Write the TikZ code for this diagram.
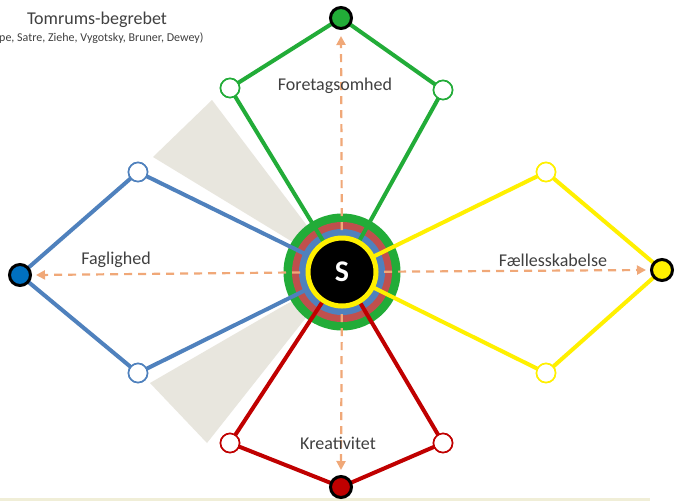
\documentclass[tikz,border=0pt]{standalone}
\usepackage{fontspec}
\setmainfont{Carlito}
\usetikzlibrary{arrows.meta}
\definecolor{cgreen}{RGB}{34,172,56}
\definecolor{cblue}{RGB}{79,129,189}
\definecolor{cbluedark}{RGB}{0,112,192}
\definecolor{cred}{RGB}{192,0,0}
\definecolor{cringred}{RGB}{192,80,77}
\definecolor{cyellow}{RGB}{255,240,0}
\definecolor{corange}{RGB}{240,168,120}
\definecolor{cwedge}{RGB}{232,230,222}
\definecolor{ctext}{RGB}{64,64,64}
\definecolor{cstrip}{RGB}{240,238,215}
\tikzset{
  opennode/.style={circle, fill=white, draw=#1, line width=1.6pt, minimum size=19pt, inner sep=0pt},
  endnode/.style={circle, fill=#1, draw=black, line width=3pt, minimum size=21pt, inner sep=0pt},
  arm/.style={draw=#1, line width=4pt},
  halo/.style={draw=white, line width=8pt},
  dasharrow/.style={draw=corange, line width=2.2pt, dash pattern=on 8pt off 6pt, -{Triangle[length=9pt,width=9pt]}},
  lbl/.style={font=\fontsize{18}{21}\selectfont, text=ctext}
}
\begin{document}
\begin{tikzpicture}[x=1pt,y=-1pt]
\useasboundingbox (0,0) rectangle (679,501);
\fill[white] (0,0) rectangle (679,501);
\fill[cstrip] (0,498) rectangle (650,501);
\coordinate (c) at (342,272);
% wedges
\fill[cwedge] (c) -- (212,100) -- (153,157) -- cycle;
\fill[cwedge] (c) -- (150,383) -- (207,443) -- cycle;
% open nodes (positions)
\node[opennode=cgreen] (g1) at (230,88) {};
\node[opennode=cgreen] (g2) at (443,90) {};
\node[opennode=cblue] (b1) at (138,172) {};
\node[opennode=cblue] (b2) at (138,373) {};
\node[opennode=cyellow] (y1) at (546,172) {};
\node[opennode=cyellow] (y2) at (546,373) {};
\node[opennode=cred] (r1) at (230,443) {};
\node[opennode=cred] (r2) at (443,443) {};
% white halos
\foreach \n in {g1,g2,b1,b2,r1,r2,y1,y2} {\path[halo] (\n.center) -- (c);}
% centre rings
\node[circle, fill=cgreen, minimum size=117pt, inner sep=0pt] (ring1) at (c) {};
\node[circle, fill=cringred, minimum size=100pt, inner sep=0pt] (ring2) at (c) {};
\node[circle, fill=cblue, minimum size=86pt, inner sep=0pt] (ring3) at (c) {};
% arms
\path[arm=cgreen] (g1.center) -- (c);
\path[arm=cgreen] (g2.center) -- (c);
\path[arm=cblue] (b1.center) -- (c);
\path[arm=cblue] (b2.center) -- (c);
\path[arm=cred] (r1.center) -- (c);
\path[arm=cred] (r2.center) -- (c);
\path[arm=cyellow] (y1.center) -- (c);
\path[arm=cyellow] (y2.center) -- (c);
% outer arms
\coordinate (gt) at (341,18);
\coordinate (bl) at (20,275);
\coordinate (yr) at (662,270);
\coordinate (rb) at (341,487);
\path[arm=cgreen] (g1.center) -- (gt) -- (g2.center);
\path[arm=cblue] (b1.center) -- (bl) -- (b2.center);
\path[arm=cyellow] (y1.center) -- (yr) -- (y2.center);
\path[arm=cred] (r1.center) -- (rb) -- (r2.center);
% open nodes over arms
\node[opennode=cgreen] at (g1) {};
\node[opennode=cgreen] at (g2) {};
\node[opennode=cblue] at (b1) {};
\node[opennode=cblue] at (b2) {};
\node[opennode=cyellow] at (y1) {};
\node[opennode=cyellow] at (y2) {};
\node[opennode=cred] at (r1) {};
\node[opennode=cred] at (r2) {};
% dashed arrows
\path[dasharrow] (c) -- (341,36);
\path[dasharrow] (c) -- (36,275);
\path[dasharrow] (c) -- (646,270);
\path[dasharrow] (c) -- (341,470);
% end nodes
\node[endnode=cgreen] (G) at (gt) {};
\node[endnode=cbluedark] (B) at (bl) {};
\node[endnode=cyellow] (Y) at (yr) {};
\node[endnode=cred] (R) at (rb) {};
% centre disc
\node[circle, fill=black, draw=cyellow, line width=5pt, minimum size=68pt, inner sep=0pt, text=white, font=\bfseries\fontsize{30}{34}\selectfont] (S) at (c) {S};
% labels
\node[lbl] (lf) at (335,86) {Foretagsomhed};
\node[lbl] (lfa) at (116,260) {Faglighed};
\node[lbl] (lfe) at (553,260) {Fællesskabelse};
\node[lbl] (lk) at (338,443) {Kreativitet};
\node[font=\fontsize{18}{21}\selectfont, text=ctext] (t) at (97,20) {Tomrums-begrebet};
\node[font=\fontsize{12}{14}\selectfont, text=ctext, anchor=west, inner sep=0pt] (ts) at (-1,38) {pe, Satre, Ziehe, Vygotsky, Bruner, Dewey)};
\end{tikzpicture}
\end{document}
